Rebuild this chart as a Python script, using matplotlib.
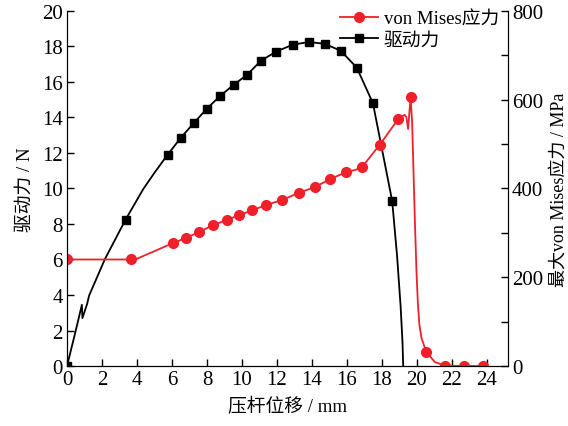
import matplotlib
matplotlib.use('Agg')
import matplotlib.pyplot as plt
from matplotlib.ticker import MultipleLocator

plt.rcParams['font.family'] = ['Liberation Serif', 'Noto Sans CJK SC']

###-----------------data------------------###
# driving force (N) vs displacement (mm)
force_x = [0, 0.5, 0.85, 0.88, 1.15, 1.26, 2.17, 3.35, 4.36, 5.01, 5.75, 6.5, 7.26, 8.0,
           8.74, 9.54, 10.29, 11.09, 11.94, 12.9, 13.83, 14.74, 15.66, 16.57, 17.49,
           18.08, 18.59, 18.87, 19.07, 19.18, 19.22]
force_y = [0, 2.0, 3.45, 2.7, 3.5, 3.96, 6.03, 8.25, 9.97, 10.9, 11.9, 12.85, 13.7, 14.5,
           15.2, 15.85, 16.4, 17.2, 17.7, 18.1, 18.25, 18.15, 17.75, 16.8, 14.8,
           11.85, 9.3, 6.2, 3.4, 1.35, 0]
force_mk_x = [0, 3.35, 5.75, 6.5, 7.26, 8.0, 8.74, 9.54, 10.29, 11.09, 11.94, 12.9,
              13.83, 14.74, 15.66, 16.57, 17.49, 18.59]
force_mk_y = [0, 8.25, 11.9, 12.85, 13.7, 14.5, 15.2, 15.85, 16.4, 17.2, 17.7, 18.1,
              18.25, 18.15, 17.75, 16.8, 14.8, 9.3]

# max von Mises stress (MPa) vs displacement (mm)
vm_x = [0, 3.66, 3.9, 6.06, 6.83, 7.55, 8.32, 9.12, 9.85, 10.6, 11.4, 12.3, 13.24,
        14.16, 15.04, 15.96, 16.5, 16.88, 17.89, 18.93, 19.3, 19.4, 19.5, 19.64,
        19.73, 19.89, 19.98, 20.06, 20.15, 20.27, 20.55, 21.03, 21.6, 22.7, 23.8, 24.0]
vm_y = [240, 240, 240, 277, 289, 302, 317, 329, 340, 351, 363, 374, 390,
        403, 421, 437, 442, 449, 499, 556, 566, 561, 534, 605,
        550, 324, 212, 140, 92, 62, 31, 9, 1, 0, 0, 0]
vm_mk_x = [0, 3.66, 6.06, 6.83, 7.55, 8.32, 9.12, 9.85, 10.6, 11.4, 12.3, 13.24,
           14.16, 15.04, 15.96, 16.88, 17.89, 18.93, 19.64, 20.55, 21.6, 22.7, 23.8]
vm_mk_y = [240, 240, 277, 289, 302, 317, 329, 340, 351, 363, 374, 390,
           403, 421, 437, 449, 499, 556, 605, 31, 1, 0, 0]

x_ticks = list(range(0, 25, 2))
left_ticks = list(range(0, 21, 2))
right_ticks = [0, 200, 400, 600, 800]

###-----------------plot------------------###
red = '#f0202a'
fig = plt.figure(figsize=(5.68, 4.27), dpi=100)
ax = fig.add_axes([0.118, 0.1405, 0.776, 0.8315])
ax2 = ax.twinx()

ax.plot(force_x, force_y, color='black', lw=1.3)
ax.plot(force_mk_x, force_mk_y, ls='none', marker='s', ms=6, color='black')
ax2.plot(vm_x, vm_y, color=red, lw=1.3)
ax2.plot(vm_mk_x, vm_mk_y, ls='none', marker='o', ms=7, color=red)

ax.set_xlim(0, 25.2)
ax.set_ylim(0, 20)
ax2.set_ylim(0, 800)
ax.set_xticks(x_ticks)
ax.set_yticks(left_ticks)
ax2.set_yticks(right_ticks)
ax2.yaxis.set_minor_locator(MultipleLocator(100))

for a in (ax, ax2):
    a.spines['top'].set_visible(False)
    a.tick_params(direction='in', labelsize=15, length=5, width=1, pad=3)
    a.tick_params(which='minor', direction='in', length=5, width=1)
ax.tick_params(axis='y', right=False)

ax.set_xlabel('压杆位移 / mm', fontsize=13.5, labelpad=6)
ax.set_ylabel('驱动力 / N', fontsize=13.5, labelpad=6)
ax2.set_ylabel('最大von Mises应力 / MPa', fontsize=13, labelpad=5)

h1, = ax2.plot([], [], color=red, lw=1.3, marker='o', ms=7)
h2, = ax.plot([], [], color='black', lw=1.3, marker='s', ms=6)
ax2.legend([h1, h2], ['von Mises应力', '驱动力'], loc='upper right',
           bbox_to_anchor=(1.018, 1.05), frameon=False, fontsize=13.5,
           handlelength=2.0, handletextpad=0.3, labelspacing=0.25)

plt.savefig('out.png', dpi=100)
plt.close()
